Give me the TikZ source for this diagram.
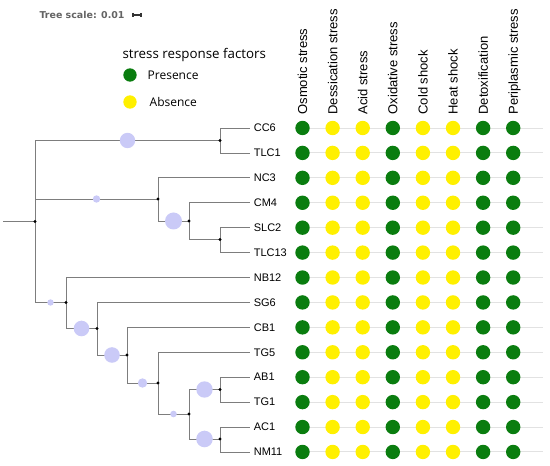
\documentclass[tikz,border=0pt]{standalone}
\usepackage{fontspec}
\setmainfont{Liberation Sans}
\newfontfamily\legendfont{Open Sans}
\newfontfamily\scalefont{DejaVu Sans}
\usetikzlibrary{calc,positioning}

\definecolor{presgreen}{RGB}{10,125,15}
\definecolor{absyellow}{RGB}{255,240,0}
\definecolor{bubblue}{RGB}{202,202,247}
\definecolor{branchgray}{RGB}{125,125,125}
\definecolor{rowgray}{RGB}{226,226,226}
\definecolor{scalegray}{RGB}{100,100,100}

\tikzset{every picture/.style={line width=0.75pt}}
\tikzset{
  branch/.style={draw=branchgray, line width=0.6pt},
  rowline/.style={draw=rowgray, line width=0.7pt},
  bubble/.style={fill=bubblue},
  dot/.style={circle, inner sep=0pt, minimum size=10.8pt},
  present/.style={dot, fill=presgreen},
  absent/.style={dot, fill=absyellow},
  leaf/.style={anchor=west, inner sep=2.5pt, font=\fontsize{8.25}{9}\selectfont},
  header/.style={rotate=90, anchor=west, inner sep=0pt, text height=7pt, text depth=0pt, font=\fontsize{9.75}{11}\selectfont},
  legendtitle/.style={anchor=west, inner sep=0pt, font=\legendfont\fontsize{10}{12}\selectfont},
  legenditem/.style={inner sep=0pt, font=\legendfont\fontsize{9}{11}\selectfont},
  scalebar/.style={draw=black!80, line width=0.8pt},
}

\begin{document}
\begin{tikzpicture}[x=0.75pt,y=0.75pt,yscale=-1]
\useasboundingbox (0,0) rectangle (550,466);

% tree scale
\node[anchor=west, inner sep=0pt, text=scalegray, font=\scalefont\bfseries\fontsize{7.1}{9}\selectfont] (scaletext) at (39,15) {Tree scale: 0.01};
\coordinate (barl) at (133,15);
\coordinate (barr) at (141,15);
\draw[scalebar] (barl) -- (barr);
\draw[scalebar] ([yshift=-1.5pt]barl) -- ([yshift=1.5pt]barl);
\draw[scalebar] ([yshift=-1.5pt]barr) -- ([yshift=1.5pt]barr);

% legend
\node[legendtitle] (legtitle) at (122,55) {stress response factors};
\node[present, minimum size=10pt] (legpres) at (130,75) {};
\node[absent, minimum size=10pt] (legabs) at (130,102) {};
\node[legenditem, right=7.5pt of legpres] (prestext) {Presence};
\node[legenditem, right=9pt of legabs] (abstext) {Absence};

% column headers
\foreach \h [count=\j from 0] in {Osmotic stress,Dessication stress,Acid stress,Oxidative stress,Cold shock,Heat shock,Detoxification,Periplasmic stress}
  \node[header] (head\j) at (302.5+30.1*\j,115) {\h};

% leaves and presence/absence dots
\foreach \name [count=\i from 0] in {CC6,TLC1,NC3,CM4,SLC2,TLC13,NB12,SG6,CB1,TG5,AB1,TG1,AC1,NM11} {
  \node[leaf] (\name) at (250,128+24.92*\i) {\name};
  \draw[rowline] (296,128+24.92*\i) -- (543,128+24.92*\i);
  \foreach \f [count=\j from 0] in {present,absent,absent,present,absent,absent,present,present}
    \node[\f] (d\i-\j) at (302.5+30.1*\j,128+24.92*\i) {};
}

% internal nodes of the tree
\coordinate (root) at (3,221.5);
\coordinate (r0) at (35,221.5);
\coordinate (n1) at (220,140.5);
\coordinate (n2) at (158,199);
\coordinate (n3) at (189,221);
\coordinate (n4) at (220,239.5);
\coordinate (n5) at (66,302.5);
\coordinate (n6) at (97,328.5);
\coordinate (n7) at (127,355);
\coordinate (n8) at (158,383);
\coordinate (n9) at (189,414);
\coordinate (n10) at (220,389.5);
\coordinate (n11) at (220,439);

\draw[branch] (root) -- (r0);
\foreach \p/\c in {r0/n1,r0/n2,r0/n5,n1/CC6,n1/TLC1,n2/NC3,n2/n3,n3/CM4,n3/n4,n4/SLC2,n4/TLC13,
    n5/NB12,n5/n6,n6/SG6,n6/n7,n7/CB1,n7/n8,n8/TG5,n8/n9,n9/n10,n9/n11,n10/AB1,n10/TG1,n11/AC1,n11/NM11}
  \draw[branch] (\p) |- (\c);

% support bubbles
\foreach \p/\c/\r in {r0/n1/7.7,r0/n2/3.7,n2/n3/8.5,r0/n5/3.2,n5/n6/7.8,n6/n7/7.8,n7/n8/4.7,n8/n9/3.3,n9/n10/8.2,n9/n11/8.3}
  \fill[bubble] ($(\p |- \c)!0.5!(\c)$) circle (\r);

\foreach \n in {r0,n1,n2,n3,n4,n5,n6,n7,n8,n9,n10,n11}
  \fill (\n) circle (1.6);

\end{tikzpicture}
\end{document}
